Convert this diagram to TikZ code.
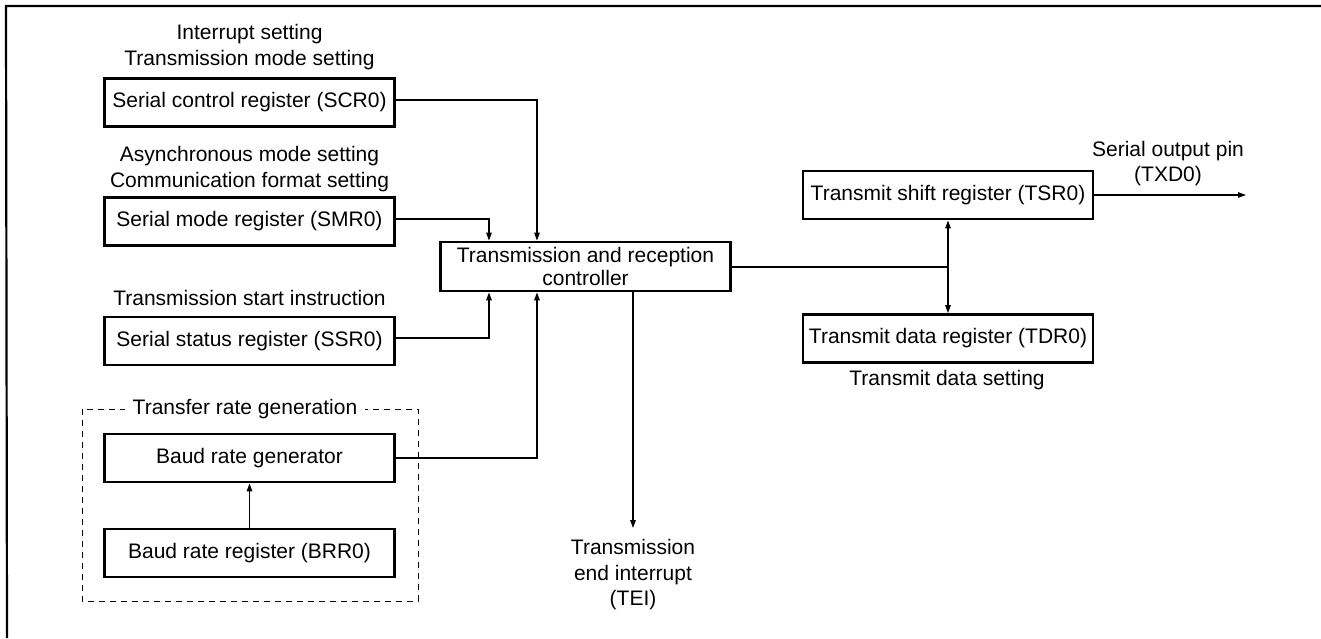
\documentclass[tikz,border=0pt]{standalone}
\usepackage{fontspec}
\setmainfont{Liberation Sans}
\usetikzlibrary{arrows.meta}
\begin{document}
\begin{tikzpicture}[x=1pt,y=-1pt,
  font=\fontsize{21}{25.5}\selectfont,
  reg/.style={draw,line width=2.8pt,minimum width=290pt,minimum height=48pt,inner sep=0pt,align=center},
  lbl/.style={inner sep=0pt,align=center},
  conn/.style={line width=1.3pt},
  arr/.style={conn,-{Triangle[length=8pt,width=5.5pt]}},
  darr/.style={conn,{Triangle[length=8pt,width=5.5pt]}-{Triangle[length=8pt,width=5.5pt]}},
  frameline/.style={line width=2.2pt},
  group/.style={draw,line width=1pt,dash pattern=on 6pt off 5pt}]
\useasboundingbox (0,0) rectangle (1321,638);
% frame
\coordinate (fa) at (6,6);
\coordinate (fb) at (1321,6);
\coordinate (fc) at (7,638);
\draw[frameline] (fb) -- (fa) -- (fc);
% left registers
\node[reg] (scr) at (249.5,102.5) {Serial control register (SCR0)};
\node[lbl] (scrl) at (249.5,47) {Interrupt setting\\Transmission mode setting};
\node[reg] (smr) at (249.5,221.5) {Serial mode register (SMR0)};
\node[lbl] (smrl) at (249.5,169) {Asynchronous mode setting\\Communication format setting};
\node[reg] (ssr) at (249.5,341) {Serial status register (SSR0)};
\node[lbl] (ssrl) at (249.5,298) {Transmission start instruction};
% transfer rate group
\coordinate (ga) at (82,409);
\coordinate (gb) at (418,601);
\draw[group] (ga) rectangle (gb);
\node[lbl,fill=white,inner xsep=8pt,inner ysep=2pt] (grpl) at (245,409) {Transfer rate generation};
\node[reg] (brg) at (249.5,458) {Baud rate generator};
\node[reg] (brr) at (249.5,553) {Baud rate register (BRR0)};
% controller
\node[reg,minimum height=49pt] (ctl) at (585.5,266.5) {Transmission and reception\\[-3pt]controller};
% right registers
\node[reg] (tsr) at (948,195) {Transmit shift register (TSR0)};
\node[reg] (tdr) at (948,338.5) {Transmit data register (TDR0)};
\node[lbl] (tdrl) at (947,380) {Transmit data setting};
\node[lbl] (outl) at (1168,163.5) {Serial output pin\\(TXD0)};
\node[lbl] (teil) at (633,575) {Transmission\\end interrupt\\(TEI)};
% connectors
\coordinate (tei) at (633,528);
\coordinate (txd) at (1246,195);
\coordinate (jn) at (948,267);
\draw[arr] (scr.east |- 0,100) -| (537,0 |- ctl.north);
\draw[arr] (smr.east |- 0,219) -| (489,0 |- ctl.north);
\draw[arr] (ssr.east |- 0,338) -| (489,0 |- ctl.south);
\draw[arr] (brg.east) -| (537,0 |- ctl.south);
\draw[arr] (brr.north) -- (brg.south);
\draw[arr] (ctl.south -| tei) -- (tei);
\draw[conn] (ctl.east |- jn) -- (jn);
\draw[darr] (tsr.south) -- (tdr.north);
\draw[arr] (tsr.east) -- (txd);
\end{tikzpicture}
\end{document}
